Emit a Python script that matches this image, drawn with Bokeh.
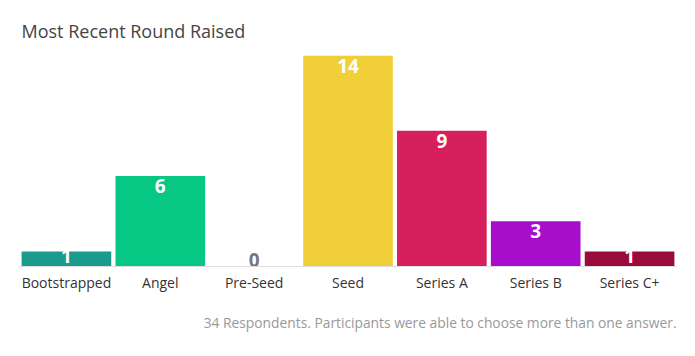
from bokeh.plotting import figure
from bokeh.models import ColumnDataSource, Title, FactorRange, Range1d
from bokeh.embed import file_html
from bokeh.resources import INLINE
from bokeh.core.properties import value

categories = ["Bootstrapped", "Angel", "Pre-Seed", "Seed", "Series A", "Series B", "Series C+"]
counts = [1, 6, 0, 14, 9, 3, 1]
colors = ["#1B9B8D", "#06C884", "#CCCCCC", "#F0CF39", "#D61F5D", "#A70ECB", "#9B0A3D"]
title_text = "Most Recent Round Raised"
footer_text = "34 Respondents. Participants were able to choose more than one answer."

FONT = "Open Sans"

p = figure(width=690, height=350, output_backend="svg", toolbar_location=None,
           x_range=FactorRange(*categories, range_padding=0), y_range=Range1d(0, 14),
           min_border_left=19, min_border_right=14, min_border_top=55, min_border_bottom=84)

p.title = Title(text=title_text, align="left", offset=2, text_font=FONT,
                text_font_size="18px", text_font_style="normal", text_color="#444444",
                standoff=26)

src = ColumnDataSource(dict(cat=categories, val=counts, col=colors,
                            lab=[str(v) for v in counts]))
p.vbar(x="cat", top="val", width=0.955, color="col", source=src, line_color=None)

# labels inside bars; short bars get the label pulled up so it stays inside
nz_vals = [v for v in counts if v > 0]
nz = ColumnDataSource(dict(cat=[c for c, v in zip(categories, counts) if v > 0],
                           val=nz_vals,
                           lab=[str(v) for v in nz_vals],
                           off=[3 if v >= 2 else -2 for v in nz_vals]))
p.text(x="cat", y="val", text="lab", source=nz, text_color="white",
       text_font=value(FONT), text_font_size="19px", text_font_style="bold",
       text_align="center", text_baseline="top", y_offset="off")

z = ColumnDataSource(dict(cat=[c for c, v in zip(categories, counts) if v == 0],
                          val=[v for v in counts if v == 0],
                          lab=[str(v) for v in counts if v == 0]))
p.text(x="cat", y="val", text="lab", source=z, text_color="#777777",
       text_font=value(FONT), text_font_size="19px", text_font_style="bold",
       text_align="center", text_baseline="bottom", y_offset=0)

p.yaxis.visible = False
p.grid.visible = False
p.outline_line_color = None
p.xaxis.axis_line_color = "#DDDDDD"
p.xaxis.major_tick_line_color = None
p.xaxis.minor_tick_line_color = None
p.xaxis.major_tick_out = 0
p.xaxis.major_tick_in = 0
p.xaxis.major_label_standoff = 6
p.xaxis.major_label_text_font = FONT
p.xaxis.major_label_text_font_size = "14px"
p.xaxis.major_label_text_color = "#333333"
p.xaxis.axis_line_width = 1

p.add_layout(Title(text=footer_text, align="right", text_font=FONT, text_font_size="13.8px",
                   text_font_style="normal", text_color="#999999", standoff=32), "below")

p.background_fill_color = "white"
p.border_fill_color = "white"

open("out.html", "w").write(file_html(p, INLINE))
